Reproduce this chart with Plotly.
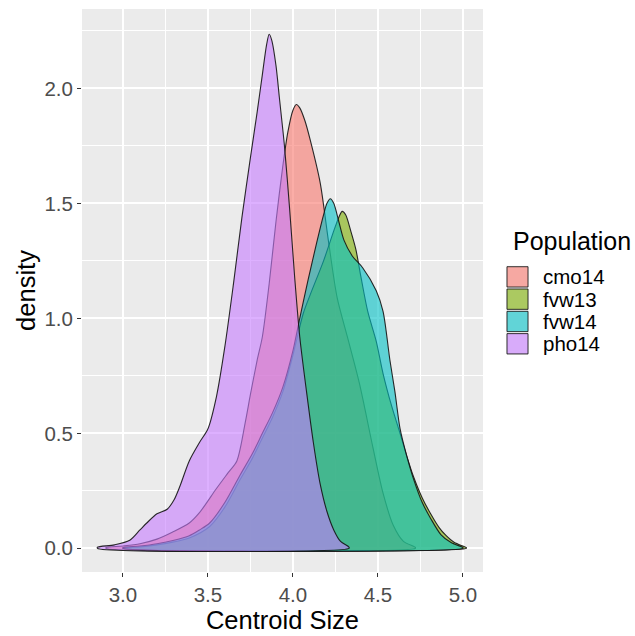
import plotly.graph_objects as go

# Kernel density outlines per population (Centroid Size vs density)
populations = ["cmo14", "fvw13", "fvw14", "pho14"]
colors = ["#F8766D", "#7CAE00", "#00BFC4", "#C77CFF"]

cmo14_x = [2.90, 3.00, 3.10, 3.20, 3.29, 3.39, 3.45, 3.55, 3.62, 3.67, 3.72, 3.75, 3.79, 3.82,
           3.86, 3.90, 3.94, 3.97, 4.00, 4.02, 4.04, 4.07, 4.10, 4.16, 4.21, 4.26, 4.32, 4.39,
           4.47, 4.53, 4.59, 4.65, 4.72]
cmo14_y = [0.003, 0.01, 0.02, 0.04, 0.07, 0.11, 0.155, 0.26, 0.33, 0.38, 0.55, 0.67, 0.82, 0.92,
           1.15, 1.42, 1.66, 1.81, 1.905, 1.93, 1.915, 1.86, 1.78, 1.59, 1.33, 1.09, 0.92, 0.72,
           0.44, 0.24, 0.10, 0.03, 0.004]

fvw13_x = [3.00, 3.10, 3.20, 3.30, 3.39, 3.51, 3.60, 3.69, 3.76, 3.82, 3.88, 3.94, 4.00, 4.06,
           4.10, 4.18, 4.24, 4.27, 4.29, 4.31, 4.34, 4.37, 4.40, 4.44, 4.49, 4.53, 4.58, 4.63,
           4.67, 4.71, 4.76, 4.81, 4.86, 4.90, 4.95, 5.02]
fvw13_y = [0.002, 0.006, 0.015, 0.028, 0.045, 0.095, 0.18, 0.30, 0.39, 0.48, 0.57, 0.68, 0.84,
           1.02, 1.10, 1.25, 1.38, 1.44, 1.465, 1.45, 1.38, 1.30, 1.18, 1.03, 0.90, 0.76, 0.62,
           0.50, 0.40, 0.31, 0.22, 0.15, 0.09, 0.056, 0.025, 0.003]

fvw14_x = [3.00, 3.10, 3.20, 3.30, 3.39, 3.45, 3.51, 3.60, 3.69, 3.76, 3.82, 3.88, 3.94, 4.00,
           4.04, 4.09, 4.14, 4.18, 4.20, 4.22, 4.24, 4.27, 4.30, 4.35, 4.41, 4.49, 4.53, 4.57,
           4.60, 4.63, 4.67, 4.71, 4.76, 4.81, 4.87, 4.93, 5.00]
fvw14_y = [0.003, 0.01, 0.02, 0.035, 0.055, 0.08, 0.11, 0.20, 0.32, 0.41, 0.50, 0.59, 0.70,
           0.86, 1.00, 1.17, 1.33, 1.45, 1.50, 1.52, 1.50, 1.42, 1.34, 1.27, 1.22, 1.12, 1.03,
           0.82, 0.68, 0.52, 0.40, 0.30, 0.20, 0.13, 0.06, 0.025, 0.003]

pho14_x = [2.85, 2.95, 3.04, 3.10, 3.14, 3.20, 3.26, 3.30, 3.335, 3.39, 3.45, 3.50, 3.55, 3.60,
           3.65, 3.70, 3.75, 3.79, 3.82, 3.845, 3.86, 3.875, 3.90, 3.92, 3.95, 3.98, 4.01, 4.04,
           4.08, 4.12, 4.16, 4.20, 4.24, 4.28, 4.33]
pho14_y = [0.005, 0.015, 0.035, 0.08, 0.11, 0.15, 0.17, 0.21, 0.27, 0.38, 0.46, 0.52, 0.66, 0.88,
           1.15, 1.44, 1.70, 1.90, 2.06, 2.19, 2.235, 2.21, 2.10, 1.96, 1.75, 1.48, 1.18, 0.92,
           0.68, 0.46, 0.28, 0.16, 0.08, 0.03, 0.005]

series_x = [cmo14_x, fvw13_x, fvw14_x, pho14_x]
series_y = [cmo14_y, fvw13_y, fvw14_y, pho14_y]

x_ticks = [3.0, 3.5, 4.0, 4.5, 5.0]
y_ticks = [0.0, 0.5, 1.0, 1.5, 2.0]

ALPHA = 0.6
FONT = "Liberation Sans, Arial, Helvetica, sans-serif"


def rgba(hex_color, a):
    h = hex_color.lstrip("#")
    r, g, b = int(h[0:2], 16), int(h[2:4], 16), int(h[4:6], 16)
    return f"rgba({r},{g},{b},{a})"


fig = go.Figure()
for name, col, xs, ys in zip(populations, colors, series_x, series_y):
    # closed outline: curve, then down to the baseline and back along it
    px = list(xs) + [xs[-1], xs[0], xs[0]]
    py = list(ys) + [0.0, 0.0, ys[0]]
    fig.add_trace(go.Scatter(
        x=px, y=py, name=name, mode="lines", fill="toself",
        fillcolor=rgba(col, ALPHA),
        line=dict(color="rgba(20,20,20,0.9)", width=1.1, shape="spline", smoothing=0.8),
        showlegend=False, hoverinfo="skip",
    ))

# plot panel geometry (pixels)
W, H = 635, 636
L, R, T, B = 82, 483, 9, 577


def paper_x(p):
    return (p - L) / (R - L)


def paper_y(p):
    return (B - p) / (B - T)


shapes = []
annotations = []

# legend: title, keys and labels
annotations.append(dict(text="Population", x=paper_x(511), y=paper_y(243), xref="paper",
                        yref="paper", xanchor="left", yanchor="middle", showarrow=False,
                        font=dict(family=FONT, size=25, color="#000000")))
key_top = 268
key_h = 22.5
for i, (name, col) in enumerate(zip(populations, colors)):
    y0 = key_top + i * key_h
    shapes.append(dict(type="rect", xref="paper", yref="paper",
                       x0=paper_x(506), x1=paper_x(529), y0=paper_y(y0 + key_h), y1=paper_y(y0),
                       fillcolor="#F2F2F2", line=dict(width=0), layer="above"))
    shapes.append(dict(type="rect", xref="paper", yref="paper",
                       x0=paper_x(507), x1=paper_x(528), y0=paper_y(y0 + key_h - 1), y1=paper_y(y0 + 1),
                       fillcolor=rgba(col, ALPHA), line=dict(color="rgba(20,20,20,0.85)", width=1),
                       layer="above"))
    annotations.append(dict(text=name, x=paper_x(541), y=paper_y(y0 + key_h / 2), xref="paper",
                            yref="paper", xanchor="left", yanchor="middle", showarrow=False,
                            font=dict(family=FONT, size=20.5, color="#000000")))

fig.update_layout(
    width=W, height=H,
    margin=dict(l=L, r=W - R, t=T, b=H - B, pad=0),
    paper_bgcolor="white", plot_bgcolor="#EBEBEB",
    font=dict(family=FONT, color="#000000"),
    shapes=shapes, annotations=annotations,
    showlegend=False,
)
fig.update_xaxes(
    range=[2.759, 5.118], tickvals=x_ticks, tickformat=".1f",
    showgrid=True, gridcolor="#FFFFFF", gridwidth=2,
    minor=dict(dtick=0.25, tick0=2.75, showgrid=True, gridcolor="#FFFFFF", gridwidth=1, ticklen=0),
    ticks="outside", ticklen=4, tickwidth=1.4, tickcolor="#333333",
    tickfont=dict(family=FONT, size=20.5, color="#4D4D4D"),
    title=dict(text="Centroid Size", font=dict(family=FONT, size=25.5, color="#000000"), standoff=4),
    zeroline=False, showline=False,
)
fig.update_yaxes(
    range=[-0.103, 2.345], tickvals=y_ticks, tickformat=".1f",
    showgrid=True, gridcolor="#FFFFFF", gridwidth=2,
    minor=dict(dtick=0.25, tick0=0.25, showgrid=True, gridcolor="#FFFFFF", gridwidth=1, ticklen=0),
    ticks="outside", ticklen=4, tickwidth=1.4, tickcolor="#333333",
    tickfont=dict(family=FONT, size=20.5, color="#4D4D4D"),
    title=dict(text="density", font=dict(family=FONT, size=25.5, color="#000000"), standoff=1),
    zeroline=False, showline=False,
)

fig.write_html("out.html")
